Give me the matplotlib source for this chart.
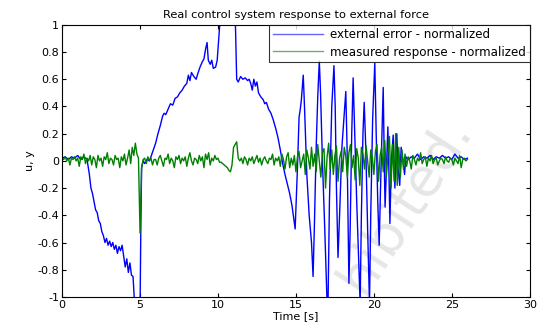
import numpy as np
import matplotlib
matplotlib.use("Agg")
from matplotlib import pyplot as plt

# external error (blue) as (time, value) pairs
errTime = [0.0, 0.2, 0.4, 0.6, 0.8, 1.0, 1.2, 1.4, 1.6,
           1.75, 1.85, 1.95, 2.05, 2.15, 2.25, 2.35, 2.45, 2.55, 2.65, 2.75, 2.85, 2.95,
           3.05, 3.15, 3.25, 3.35, 3.45, 3.55, 3.65, 3.75, 3.85, 3.95, 4.05, 4.15, 4.25,
           4.35, 4.45, 4.55, 4.65, 4.75, 5.0, 5.05, 5.1, 5.2, 5.3, 5.45, 5.6,
           5.7, 5.85, 6.0, 6.15, 6.3, 6.45, 6.55, 6.65, 6.8, 6.95, 7.1, 7.25, 7.4, 7.55,
           7.7, 7.85, 8.0, 8.1, 8.2, 8.3, 8.45, 8.6, 8.7, 8.85, 9.0, 9.1, 9.2, 9.3, 9.38,
           9.5, 9.6, 9.7, 9.85, 9.95, 10.1, 10.2, 11.1, 11.2,
           11.3, 11.45, 11.6, 11.75, 11.9, 12.0, 12.1, 12.2, 12.3, 12.4, 12.5, 12.6, 12.75,
           12.9, 13.0, 13.1, 13.25, 13.4, 13.55, 13.7, 13.85, 14.0, 14.15, 14.3, 14.45,
           14.6, 14.75, 14.95,
           15.1, 15.2, 15.28, 15.35, 15.47, 15.55, 15.7, 15.85, 16.0, 16.1, 16.18, 16.3,
           16.4, 16.5, 16.58, 16.7, 16.85, 17.0, 17.06, 17.15, 17.3, 17.44, 17.52, 17.6,
           17.7, 17.8, 17.95, 18.2, 18.28, 18.4, 18.48, 18.58, 18.67, 18.75, 18.9, 19.05,
           19.12, 19.2, 19.3, 19.38, 19.48, 19.6, 19.72, 19.8, 19.92, 20.06, 20.15, 20.25,
           20.34, 20.45, 20.6, 20.68, 20.72, 20.82, 20.9, 20.97, 21.03, 21.12, 21.24, 21.3,
           21.35, 21.42, 21.47, 21.55, 21.66, 21.75, 21.85, 21.97, 22.05,
           22.2, 22.4, 22.6, 22.8, 23.0, 23.2, 23.4, 23.6, 23.8, 24.0, 24.2, 24.4, 24.6,
           24.8, 25.0, 25.2, 25.4, 25.6, 25.8, 26.0]
errValue = [0.02, 0.03, 0.01, 0.03, 0.02, 0.04, 0.01, 0.03, 0.01,
            -0.1, -0.2, -0.24, -0.3, -0.36, -0.38, -0.44, -0.46, -0.52, -0.55, -0.6, -0.57, -0.62,
            -0.59, -0.63, -0.6, -0.65, -0.62, -0.68, -0.63, -0.66, -0.62, -0.7, -0.78, -0.72, -0.82,
            -0.75, -0.84, -0.85, -1.05, -1.1, -1.1, -0.5, -0.05, 0.0, -0.02, 0.01, 0.0,
            0.03, 0.08, 0.13, 0.2, 0.26, 0.33, 0.35, 0.34, 0.38, 0.42, 0.41, 0.46, 0.47, 0.5,
            0.52, 0.55, 0.57, 0.63, 0.59, 0.65, 0.62, 0.6, 0.64, 0.69, 0.73, 0.75, 0.82, 0.87, 0.74,
            0.71, 0.74, 0.68, 0.69, 0.74, 0.98, 1.1, 1.1, 0.6,
            0.58, 0.62, 0.6, 0.61, 0.59, 0.6, 0.57, 0.52, 0.6, 0.55, 0.58, 0.5, 0.47,
            0.45, 0.42, 0.43, 0.38, 0.35, 0.3, 0.24, 0.17, 0.08, -0.02, -0.1, -0.17,
            -0.24, -0.33, -0.5,
            -0.05, 0.32, 0.38, 0.45, 0.63, 0.4, -0.1, -0.4, -0.6, -0.85, -0.5, 0.1,
            0.47, 0.735, 0.5, 0.0, -0.5, -1.05, -1.05, -0.3, 0.4, 0.7, 0.4, -0.2,
            -0.71, -0.4, 0.1, 0.51, 0.1, -0.9, -0.5, 0.2, 0.61, 0.3, -0.3, -0.8,
            -1.05, -0.4, 0.2, 0.43, 0.1, -0.5, -1.05, -0.4, 0.3, 0.72, 0.2, -0.3,
            -0.62, -0.1, 0.54, -0.1, -0.34, 0.0, 0.25, -0.1, -0.46, 0.0, 0.19, -0.05,
            -0.2, 0.05, 0.2, -0.05, -0.18, 0.1, 0.02, -0.1, 0.03,
            0.01, 0.03, 0.02, 0.05, 0.01, 0.03, 0.02, 0.04, 0.01, 0.03, 0.02, 0.04, 0.02,
            0.03, 0.01, 0.05, 0.02, 0.03, 0.01, 0.02]

# measured response (green), one value every 0.1 s from 0 to 26 s
respTime = np.linspace(0, 26, 261)
respValue = [
    0.02, 0.01, 0.03, 0.00, 0.02, -0.03, 0.02, 0.01, 0.03, 0.00,
    0.02, -0.04, 0.03, 0.01, 0.05, -0.02, 0.02, 0.00, 0.04, -0.03,
    0.03, 0.01, -0.05, 0.04, 0.00, 0.02, -0.04, 0.03, 0.01, 0.06,
    -0.02, 0.02, 0.01, -0.03, 0.04, 0.01, 0.02, -0.05, 0.03, 0.00,
    0.05, -0.03, 0.02, 0.08, -0.02, 0.10, 0.04, 0.13, 0.05, 0.02,
    -0.53, -0.05, 0.01, 0.02, -0.02, 0.03, 0.00, 0.02, -0.03, 0.01,
    0.01, -0.03, 0.02, 0.04, 0.00, -0.04, 0.02, 0.01, 0.05, -0.02,
    0.02, 0.00, -0.05, 0.03, 0.01, 0.04, -0.02, 0.02, 0.00, 0.03,
    -0.04, 0.02, 0.06, 0.00, -0.03, 0.02, 0.01, -0.02, 0.04, 0.00,
    0.03, -0.05, 0.05, 0.01, 0.06, -0.03, 0.02, 0.00, 0.04, 0.01,
    0.02, -0.01, -0.01, -0.02, -0.03, -0.04, -0.05, -0.07, -0.08, -0.03,
    0.10, 0.12, 0.14, 0.02, 0.00, 0.02, -0.02, 0.03, 0.01, -0.03,
    0.02, 0.00, 0.03, -0.02, 0.01, 0.04, -0.01, 0.02, -0.03, 0.01,
    0.03, 0.00, -0.02, 0.02, 0.01, 0.05, -0.03, 0.02, 0.00, 0.03,
    -0.04, 0.05, 0.01, -0.06, 0.03, 0.06, -0.05, 0.02, -0.03, 0.04,
    -0.08, 0.03, 0.07, -0.05, 0.00, 0.05, -0.10, 0.08, 0.02, -0.06,
    0.10, -0.04, 0.05, -0.08, 0.12, 0.00, -0.12, 0.06, 0.09, -0.20,
    0.03, 0.13, -0.06, 0.08, -0.10, 0.04, 0.11, -0.15, 0.02, 0.07,
    -0.08, 0.10, 0.03, -0.12, 0.06, 0.12, -0.05, 0.04, -0.14, 0.09,
    0.02, -0.18, 0.10, 0.05, -0.06, 0.11, 0.00, -0.12, 0.08, 0.03,
    -0.10, 0.07, 0.12, -0.15, 0.04, 0.10, -0.08, 0.15, -0.12, 0.05,
    0.18, -0.20, 0.12, -0.15, 0.20, -0.18, 0.10, -0.12, 0.08, -0.06,
    0.05, -0.04, 0.03, 0.00, -0.06, 0.04, 0.01, -0.03, 0.02, 0.00,
    0.06, -0.02, 0.01, 0.03, -0.04, 0.02, 0.00, 0.04, -0.02, 0.01,
    0.02, -0.03, 0.00, 0.02, 0.01, -0.02, 0.03, 0.00, -0.01, 0.02,
    0.01, -0.03, 0.02, 0.00, -0.02, 0.04, -0.05, 0.01, 0.02, 0.00,
    0.01]

xTicks = [0, 5, 10, 15, 20, 25, 30]
yTicks = [-1, -0.8, -0.6, -0.4, -0.2, 0, 0.2, 0.4, 0.6, 0.8, 1]
yTickLabels = ['-1', '-0.8', '-0.6', '-0.4', '-0.2', '0', '0.2', '0.4', '0.6', '0.8', '1']

plt.rcParams['font.family'] = ['DejaVu Sans']

fig = plt.figure(figsize=(5.4, 3.27), dpi=100)
ax = fig.add_axes([0.115, 0.092, 0.866, 0.832])

# watermark behind everything
fig.text(0.75, 0.375, 'hibited.', rotation=57, fontsize=38, color='#e6e6e6',
         ha='center', va='center', zorder=-1)
ax.set_facecolor('none')

ax.plot(errTime, errValue, color='#0000ff', lw=1.0, label='external error - normalized')
ax.plot(respTime, respValue, color='#008000', lw=1.0, label='measured response - normalized')

ax.set_xlim(0, 30)
ax.set_ylim(-1, 1)
ax.set_xticks(xTicks)
ax.set_yticks(yTicks)
ax.set_yticklabels(yTickLabels)
ax.tick_params(direction='in', top=True, right=True, labelsize=8, length=3, pad=2)
for s in ax.spines.values():
    s.set_linewidth(0.8)

ax.set_title('Real control system response to external force', fontsize=8.2, pad=5)
ax.set_xlabel('Time [s]', fontsize=8, labelpad=1)
ax.set_ylabel('u, y', fontsize=8, labelpad=2)

leg = ax.legend(loc='upper right', fontsize=8.6, frameon=True, fancybox=False,
                borderaxespad=0, handlelength=4.2, borderpad=0.3, labelspacing=0.35,
                handletextpad=0.6)
leg.get_frame().set_edgecolor('black')
leg.get_frame().set_linewidth(0.8)
for l in leg.get_lines():
    l.set_alpha(0.6)

fig.savefig('out.png', dpi=100)
